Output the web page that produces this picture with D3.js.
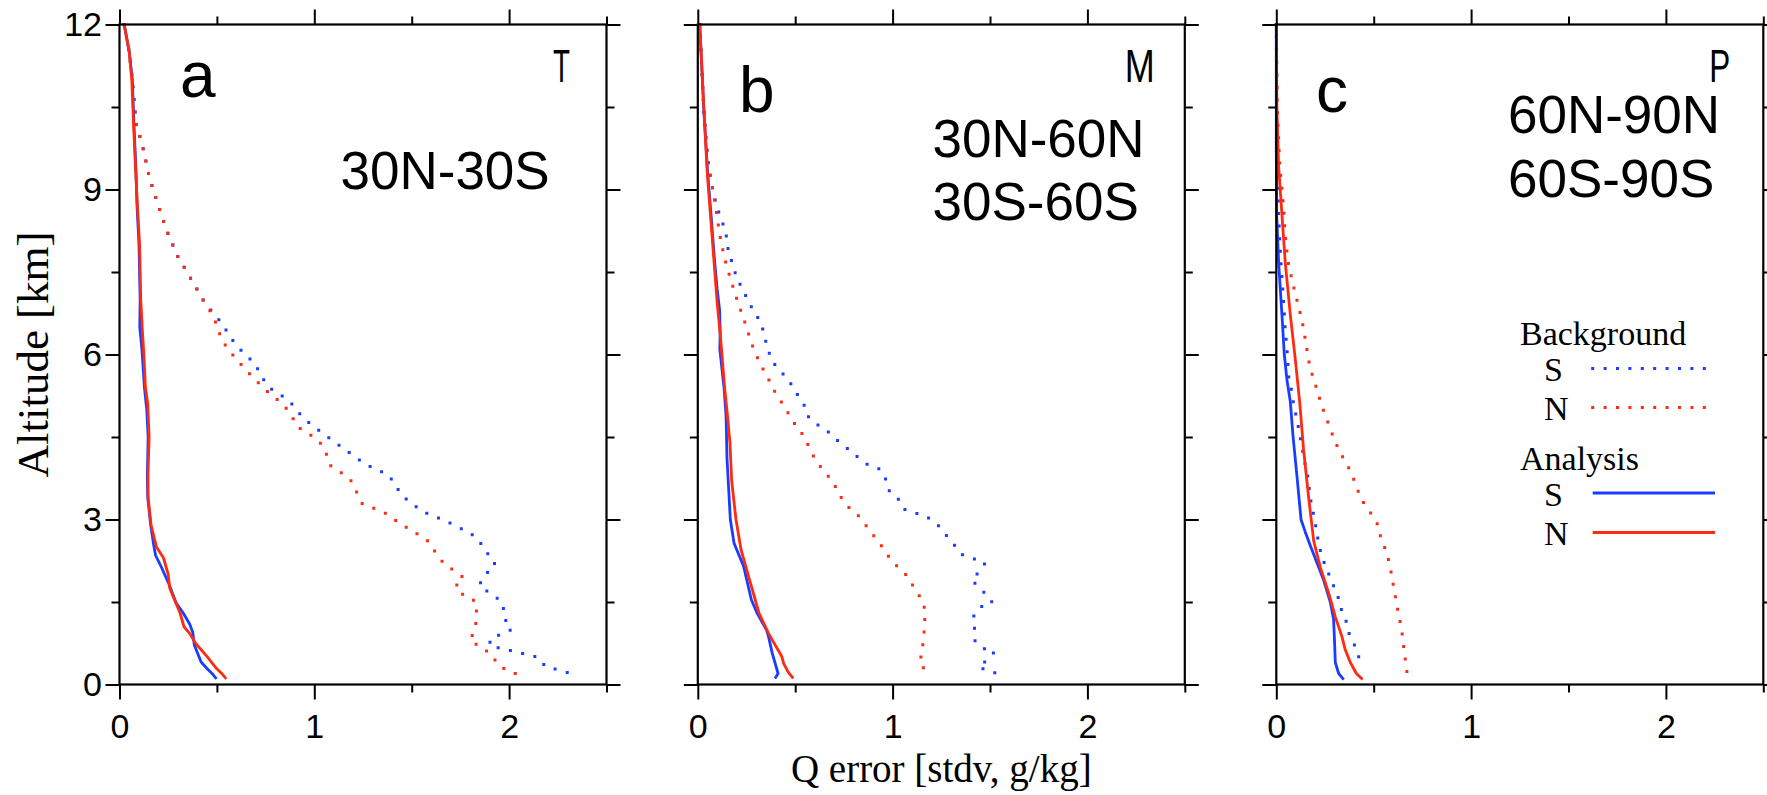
<!DOCTYPE html>
<html><head><meta charset="utf-8">
<script src="https://cdn.jsdelivr.net/npm/d3@7"></script>
<style>
body{margin:0;background:#fff}
svg{display:block}
.tick line{stroke:#000;stroke-width:2}
</style>
</head><body>
<svg id="chart" width="1767" height="795"></svg>
<script>
// ---------- tick values & labels ----------
const xTickMajor = [0, 1, 2];
const xTickMinor = [0.5, 1.5, 2.5];
const yTickMajor = [0, 3, 6, 9, 12];
const yTickMinor = [1.5, 4.5, 7.5, 10.5];
const xDomain = [0, 2.5];
const yDomain = [0, 12];
const panelLetters = ['a', 'b', 'c'];
const regionCodes = ['T', 'M', 'P'];
const regionLabels = [['30N-30S'], ['30N-60N', '30S-60S'], ['60N-90N', '60S-90S']];
const legendGroups = ['Background', 'Analysis'];
const legendSeries = ['S', 'N'];
const xTitle = 'Q error [stdv, g/kg]';
const yTitle = 'Altitude [km]';

// ---------- data: [Q error (g/kg), altitude (km)] ----------
// panel a : 30N-30S
const aBgS = [[0.024,12],[0.05,11.5],[0.066,11.0],[0.078,10.5],[0.086,10.2],[0.123,9.72],[0.154,9.21],[0.197,8.73],[0.243,8.25],[0.298,7.79],[0.366,7.38],[0.436,6.95],[0.522,6.58],[0.597,6.17],[0.693,5.84],[0.759,5.42],[0.871,5.16],[0.944,4.84],[1.05,4.55],[1.158,4.27],[1.264,4.0],[1.382,3.81],[1.451,3.43],[1.553,3.15],[1.671,2.98],[1.791,2.77],[1.843,2.64],[1.876,2.42],[1.925,2.27],[1.925,2.13],[1.876,2.0],[1.846,1.8],[1.902,1.66],[1.951,1.54],[1.97,1.42],[1.974,1.21],[2.014,1.0],[1.955,0.91],[1.902,0.83],[1.902,0.69],[1.965,0.66],[2.028,0.6],[2.093,0.54],[2.152,0.49],[2.185,0.33],[2.246,0.27],[2.309,0.21],[2.329,0.11]];
const aBgN = [[0.024,12],[0.05,11.5],[0.066,11.0],[0.078,10.5],[0.086,10.2],[0.123,9.72],[0.154,9.21],[0.197,8.73],[0.243,8.25],[0.298,7.79],[0.366,7.38],[0.436,6.95],[0.474,6.74],[0.503,6.51],[0.522,6.28],[0.563,6.07],[0.645,5.73],[0.691,5.56],[0.742,5.38],[0.843,5.08],[0.882,4.9],[0.911,4.69],[0.97,4.56],[1.024,4.43],[1.059,4.22],[1.079,3.99],[1.134,3.86],[1.187,3.71],[1.217,3.5],[1.246,3.29],[1.309,3.2],[1.368,3.11],[1.423,2.97],[1.476,2.85],[1.531,2.73],[1.587,2.6],[1.624,2.39],[1.665,2.2],[1.718,2.07],[1.768,1.94],[1.724,1.78],[1.772,1.6],[1.831,1.51],[1.833,1.27],[1.827,1.02],[1.799,0.8],[1.856,0.68],[1.911,0.54],[1.945,0.34],[2.004,0.24],[2.063,0.15]];
const aAnS = [[0.024,12],[0.05,11.5],[0.066,11.0],[0.074,10.2],[0.084,9.4],[0.09,8.7],[0.1,8.0],[0.106,7.0],[0.104,6.5],[0.115,6.1],[0.128,5.4],[0.14,5.0],[0.147,4.5],[0.143,3.8],[0.145,3.4],[0.16,2.9],[0.175,2.55],[0.185,2.35],[0.213,2.15],[0.252,1.84],[0.291,1.48],[0.327,1.3],[0.36,1.1],[0.376,0.95],[0.384,0.72],[0.419,0.41],[0.449,0.29],[0.48,0.18],[0.498,0.1]];
const aAnN = [[0.024,12],[0.05,11.5],[0.063,11.0],[0.072,10.2],[0.082,9.4],[0.092,8.7],[0.103,8.0],[0.109,7.0],[0.118,6.4],[0.125,6.0],[0.133,5.4],[0.145,5.1],[0.152,4.5],[0.146,3.8],[0.147,3.4],[0.162,2.9],[0.19,2.5],[0.226,2.3],[0.25,2.0],[0.258,1.75],[0.281,1.55],[0.311,1.3],[0.331,1.05],[0.36,0.93],[0.39,0.75],[0.449,0.51],[0.498,0.29],[0.53,0.18],[0.548,0.1]];
// panel b : 30N-60N / 30S-60S
const bBgS = [[0.01,12],[0.03,10.5],[0.045,9.8],[0.056,9.41],[0.068,9.17],[0.082,8.91],[0.099,8.67],[0.125,8.42],[0.145,8.19],[0.154,7.94],[0.174,7.69],[0.195,7.45],[0.224,7.22],[0.256,7.0],[0.287,6.78],[0.325,6.58],[0.343,6.32],[0.359,6.1],[0.383,5.87],[0.427,5.69],[0.47,5.51],[0.506,5.3],[0.545,5.09],[0.559,4.9],[0.608,4.74],[0.661,4.62],[0.712,4.45],[0.764,4.3],[0.815,4.15],[0.866,4.01],[0.928,3.93],[0.962,3.77],[0.974,3.55],[1.025,3.4],[1.056,3.19],[1.117,3.12],[1.179,3.04],[1.23,2.91],[1.271,2.73],[1.314,2.55],[1.357,2.36],[1.412,2.29],[1.475,2.21],[1.447,2.06],[1.406,1.9],[1.453,1.73],[1.5,1.57],[1.512,1.48],[1.451,1.41],[1.412,1.22],[1.422,0.99],[1.422,0.8],[1.461,0.66],[1.524,0.6],[1.492,0.46],[1.441,0.33],[1.484,0.25],[1.549,0.19]];
const bBgN = [[0.01,12],[0.03,10.5],[0.045,9.8],[0.056,9.41],[0.068,9.17],[0.082,8.91],[0.095,8.6],[0.113,8.17],[0.128,7.91],[0.145,7.65],[0.164,7.42],[0.185,7.18],[0.207,6.93],[0.231,6.7],[0.253,6.46],[0.275,6.21],[0.301,5.98],[0.333,5.75],[0.366,5.53],[0.396,5.32],[0.434,5.11],[0.47,4.9],[0.506,4.69],[0.548,4.5],[0.576,4.27],[0.61,4.05],[0.653,3.86],[0.695,3.68],[0.726,3.45],[0.765,3.25],[0.817,3.1],[0.859,2.91],[0.9,2.72],[0.941,2.53],[0.981,2.32],[1.025,2.14],[1.073,1.98],[1.109,1.77],[1.145,1.57],[1.169,1.34],[1.163,1.1],[1.16,0.85],[1.15,0.59],[1.138,0.36],[1.189,0.22]];
const bAnS = [[0.01,12],[0.03,10.5],[0.05,9.33],[0.068,8.54],[0.085,7.75],[0.099,7.2],[0.112,6.8],[0.115,6.4],[0.113,6.1],[0.135,5.38],[0.145,4.9],[0.15,4.1],[0.167,3.0],[0.186,2.57],[0.235,2.15],[0.275,1.54],[0.304,1.3],[0.353,0.99],[0.363,0.87],[0.382,0.57],[0.412,0.2],[0.396,0.11]];
const bAnN = [[0.01,12],[0.031,10.5],[0.048,9.33],[0.065,8.54],[0.082,7.75],[0.099,6.96],[0.12,6.17],[0.138,5.38],[0.152,4.9],[0.165,4.4],[0.174,3.7],[0.196,3.0],[0.222,2.45],[0.265,1.91],[0.29,1.6],[0.314,1.3],[0.363,0.93],[0.431,0.51],[0.441,0.38],[0.465,0.22],[0.49,0.11]];
// panel c : 60N-90N / 60S-90S
const cBgS = [[0,12],[0.003,10],[0.012,8.5],[0.025,7.6],[0.035,7.1],[0.046,6.45],[0.055,6.09],[0.064,5.58],[0.08,5.32],[0.089,5.08],[0.106,4.82],[0.12,4.55],[0.132,4.31],[0.145,4.06],[0.161,3.79],[0.178,3.32],[0.197,3.0],[0.217,2.57],[0.234,2.32],[0.26,2.09],[0.286,1.86],[0.315,1.62],[0.332,1.38],[0.358,1.15],[0.375,0.91],[0.405,0.69],[0.428,0.45]];
const cBgN = [[0,12],[0.005,10.5],[0.018,9.4],[0.033,8.88],[0.041,8.45],[0.05,8.0],[0.063,7.63],[0.08,7.37],[0.097,7.11],[0.115,6.86],[0.132,6.62],[0.15,6.25],[0.166,5.89],[0.183,5.65],[0.205,5.4],[0.226,5.15],[0.248,4.92],[0.274,4.68],[0.299,4.44],[0.328,4.21],[0.363,4.01],[0.393,3.77],[0.417,3.54],[0.445,3.32],[0.486,3.11],[0.522,2.9],[0.537,2.66],[0.563,2.43],[0.582,2.19],[0.594,1.94],[0.606,1.7],[0.619,1.44],[0.633,1.19],[0.645,0.95],[0.653,0.71],[0.662,0.46],[0.671,0.22]];
const cAnS = [[0,12],[0,9.72],[0.002,8.54],[0.012,7.67],[0.029,6.72],[0.041,6.0],[0.055,5.53],[0.072,5.14],[0.086,4.51],[0.106,3.79],[0.127,3.0],[0.149,2.77],[0.174,2.53],[0.209,2.21],[0.243,1.9],[0.277,1.5],[0.294,1.19],[0.298,0.87],[0.303,0.4],[0.32,0.2],[0.346,0.09]];
const cAnN = [[0,12],[0.003,10.5],[0.012,9.41],[0.029,8.54],[0.046,7.67],[0.072,6.72],[0.097,5.93],[0.12,5.14],[0.14,4.27],[0.166,3.4],[0.192,2.61],[0.226,2.13],[0.269,1.66],[0.303,1.23],[0.337,0.87],[0.354,0.63],[0.38,0.4],[0.411,0.2],[0.443,0.09]];

const panelSeries = [
  [aBgS, aBgN, aAnS, aAnN],
  [bBgS, bBgN, bAnS, bAnN],
  [cBgS, cBgN, cAnS, cAnN]
];

// ---------- styling / layout ----------
const BLUE = '#1a3cff', RED = '#ff2a12';
const seriesStyle = [
  {color: BLUE, dotted: true},
  {color: RED, dotted: true},
  {color: BLUE, dotted: false},
  {color: RED, dotted: false}
];
const SANS = "'Liberation Sans', Arial, Helvetica, sans-serif";
const SERIF = "'Liberation Serif', 'Times New Roman', serif";
const DOT_DASH = '0 12.6';

const svg = d3.select('#chart');
const W = 487, H = 660, TOP = 24.5;
const lefts = [119.5, 697.8, 1276.3];

const x = d3.scaleLinear().domain(xDomain).range([0, W]);
const y = d3.scaleLinear().domain(yDomain).range([H, 0]);
const line = d3.line().x(d => x(d[0])).y(d => y(d[1])).curve(d3.curveLinear);

// per-panel text placement (relative to panel origin)
const letterPos = [[60.5, 72.5], [41.2, 87.5], [39.7, 87.5]];
const codePos = [[W - 53.5, 57.5, 17], [W - 60, 57.5, 30], [W - 54, 57, 21]];
const regionPos = [[221, [164.5]], [234.7, [132.5, 195.5]], [231.7, [108.5, 172.5]]];

function styleAxis(g, labels) {
  g.select('.domain').remove();
  g.selectAll('text').attr('font-family', SANS).attr('font-size', 34).attr('fill', '#000');
  if (!labels) g.selectAll('text').remove();
}

lefts.forEach((L, i) => {
  const g = svg.append('g').attr('transform', `translate(${L},${TOP})`);

  // data lines
  panelSeries[i].forEach((ser, k) => {
    const st = seriesStyle[k];
    g.append('path').datum(ser)
      .attr('d', line)
      .attr('fill', 'none')
      .attr('stroke', st.color)
      .attr('stroke-width', st.dotted ? 3 : 2.8)
      .attr('stroke-linejoin', 'round')
      .attr('stroke-linecap', st.dotted ? 'square' : 'butt')
      .attr('stroke-dasharray', st.dotted ? DOT_DASH : null);
  });

  // axes (ticks outward on all sides)
  const axes = [
    [d3.axisBottom(x), `translate(0,${H})`, xTickMajor, 15, true, 14.5],
    [d3.axisBottom(x), `translate(0,${H})`, xTickMinor, 8, false, 0],
    [d3.axisTop(x), null, xTickMajor, 15, false, 0],
    [d3.axisTop(x), null, xTickMinor, 8, false, 0],
    [d3.axisLeft(y), null, yTickMajor, 14, i === 0, 3.5],
    [d3.axisLeft(y), null, yTickMinor, 8, false, 0],
    [d3.axisRight(y), `translate(${W},0)`, yTickMajor, 14, false, 0],
    [d3.axisRight(y), `translate(${W},0)`, yTickMinor, 8, false, 0]
  ];
  axes.forEach(([ax, tr, vals, size, labels, pad]) => {
    const ag = g.append('g');
    if (tr) ag.attr('transform', tr);
    ag.call(ax.tickValues(vals).tickSize(size).tickSizeOuter(0).tickPadding(pad).tickFormat(d3.format('d')));
    styleAxis(ag, labels);
  });

  // frame
  g.append('rect').attr('x', 0).attr('y', 0).attr('width', W).attr('height', H)
    .attr('fill', 'none').attr('stroke', '#000').attr('stroke-width', 2.2);

  // panel letter
  g.append('text').attr('x', letterPos[i][0]).attr('y', letterPos[i][1])
    .attr('font-family', SANS).attr('font-size', 64).text(panelLetters[i]);

  // region code (narrow letter)
  g.append('text').attr('x', codePos[i][0]).attr('y', codePos[i][1])
    .attr('font-family', SANS).attr('font-size', 46)
    .attr('textLength', codePos[i][2]).attr('lengthAdjust', 'spacingAndGlyphs')
    .text(regionCodes[i]);

  // region label lines
  regionLabels[i].forEach((t, j) => {
    g.append('text').attr('x', regionPos[i][0]).attr('y', regionPos[i][1][j])
      .attr('font-family', SANS).attr('font-size', 53).text(t);
  });
});

// ---------- legend (inside panel c) ----------
const lg = svg.append('g');
const legTitleY = [345, 470];
const legItemY = [[381, 420], [505.5, 545]];
legendGroups.forEach((name, gi) => {
  lg.append('text').attr('x', 1520).attr('y', legTitleY[gi])
    .attr('font-family', SERIF).attr('font-size', 34).text(name);
  legendSeries.forEach((s, si) => {
    const st = seriesStyle[gi * 2 + si];
    const by = legItemY[gi][si];
    lg.append('text').attr('x', 1544).attr('y', by)
      .attr('font-family', SERIF).attr('font-size', 34).text(s);
    lg.append('line').attr('x1', 1592.7).attr('x2', 1715)
      .attr('y1', by - 12.5).attr('y2', by - 12.5)
      .attr('stroke', st.color).attr('stroke-width', st.dotted ? 3 : 2.8)
      .attr('stroke-linecap', st.dotted ? 'square' : 'butt')
      .attr('stroke-dasharray', st.dotted ? '0 12.4' : null);
  });
});

// ---------- axis titles ----------
svg.append('text').attr('x', lefts[1] + W / 2).attr('y', 782)
  .attr('text-anchor', 'middle').attr('font-family', SERIF).attr('font-size', 39)
  .text(xTitle);
svg.append('text').attr('transform', `translate(47.5,${TOP + H / 2}) rotate(-90)`)
  .attr('text-anchor', 'middle').attr('font-family', SERIF).attr('font-size', 45)
  .text(yTitle);
</script>
</body></html>
